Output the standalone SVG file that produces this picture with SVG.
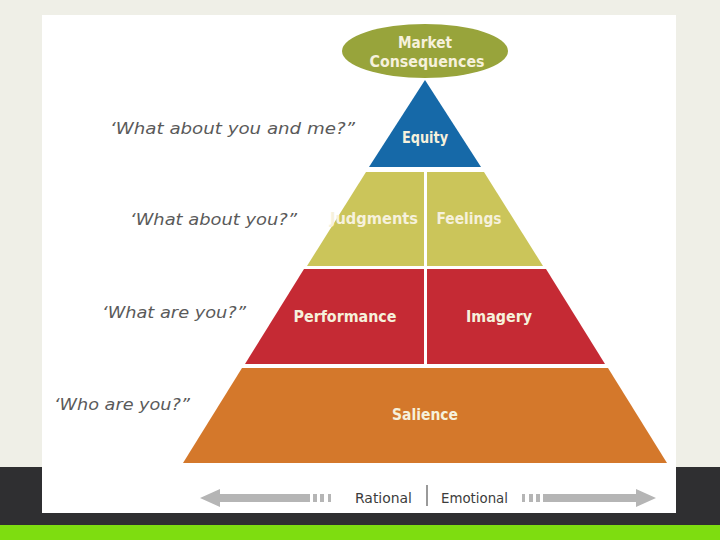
<svg xmlns="http://www.w3.org/2000/svg" width="720" height="540" viewBox="0 0 720 540">
<style>
.lbl{font-family:"Liberation Sans Narrow","DejaVu Sans Condensed","Liberation Sans",sans-serif;font-weight:bold;fill:#f6f1dc;text-anchor:middle}
.q{font-family:"DejaVu Sans Condensed","Liberation Sans Narrow","Liberation Sans",sans-serif;font-style:italic;font-size:16px;fill:#5a5a5a}
.ax{font-family:"Liberation Sans Narrow","DejaVu Sans Condensed","Liberation Sans",sans-serif;font-size:14px;fill:#3c3c3c}
.arw{fill:#b5b5b5}
</style>
<rect x="0" y="0" width="720" height="540" fill="#efefe7"/>
<rect x="0" y="467" width="720" height="58" fill="#2f2f31"/>
<rect x="0" y="525" width="720" height="15" fill="#7edd10"/>
<rect x="42" y="15" width="634" height="498" fill="#ffffff"/>

<g id="market-consequences">
<ellipse cx="425" cy="51" rx="83" ry="27" fill="#98a43b"/>
<text class="lbl" x="425" y="48" font-size="15" textLength="54" lengthAdjust="spacingAndGlyphs">Market</text>
<text class="lbl" x="427" y="67" font-size="15" textLength="115" lengthAdjust="spacingAndGlyphs">Consequences</text>
</g>

<g id="equity">
<polygon points="425,80 369,167 481,167" fill="#1669a8"/>
<text class="lbl" x="425" y="143" font-size="16" textLength="46" lengthAdjust="spacingAndGlyphs">Equity</text>
</g>

<g id="judgments">
<polygon points="366,172 424,172 424,266 307,266" fill="#cbc55a"/>
<text class="lbl" x="374" y="224" font-size="16" textLength="88" lengthAdjust="spacingAndGlyphs">Judgments</text>
</g>
<g id="feelings">
<polygon points="427,172 484,172 543,266 427,266" fill="#cbc55a"/>
<text class="lbl" x="469" y="224" font-size="16" textLength="65" lengthAdjust="spacingAndGlyphs">Feelings</text>
</g>

<g id="performance">
<polygon points="304,269 424,269 424,364 245,364" fill="#c52a34"/>
<text class="lbl" x="345" y="322" font-size="16" textLength="103" lengthAdjust="spacingAndGlyphs">Performance</text>
</g>
<g id="imagery">
<polygon points="427,269 546,269 605,364 427,364" fill="#c52a34"/>
<text class="lbl" x="499" y="322" font-size="16" textLength="66" lengthAdjust="spacingAndGlyphs">Imagery</text>
</g>

<g id="salience">
<polygon points="242,368 608,368 667,463 183,463" fill="#d4782b"/>
<text class="lbl" x="425" y="420" font-size="16" textLength="66" lengthAdjust="spacingAndGlyphs">Salience</text>
</g>

<g id="questions">
<text class="q" x="110" y="134" textLength="245" lengthAdjust="spacingAndGlyphs">‘What about you and me?”</text>
<text class="q" x="130" y="225" textLength="167" lengthAdjust="spacingAndGlyphs">‘What about you?”</text>
<text class="q" x="102" y="318" textLength="144" lengthAdjust="spacingAndGlyphs">‘What are you?”</text>
<text class="q" x="54" y="410" textLength="136" lengthAdjust="spacingAndGlyphs">‘Who are you?”</text>
</g>

<g id="axis">
<polygon class="arw" points="200,498 220,489 220,494 310,494 310,502 220,502 220,507"/>
<rect class="arw" x="313" y="494" width="4" height="8"/>
<rect class="arw" x="320" y="494" width="4" height="8"/>
<rect class="arw" x="328" y="494" width="3" height="8"/>
<text class="ax" x="355" y="503" textLength="57" lengthAdjust="spacingAndGlyphs">Rational</text>
<rect x="426" y="485" width="2" height="21" fill="#9a9a9a"/>
<text class="ax" x="441" y="503" textLength="67" lengthAdjust="spacingAndGlyphs">Emotional</text>
<rect class="arw" x="522" y="494" width="3" height="8"/>
<rect class="arw" x="529" y="494" width="4" height="8"/>
<rect class="arw" x="536" y="494" width="4" height="8"/>
<polygon class="arw" points="656,498 636,489 636,494 543,494 543,502 636,502 636,507"/>
</g>
</svg>
